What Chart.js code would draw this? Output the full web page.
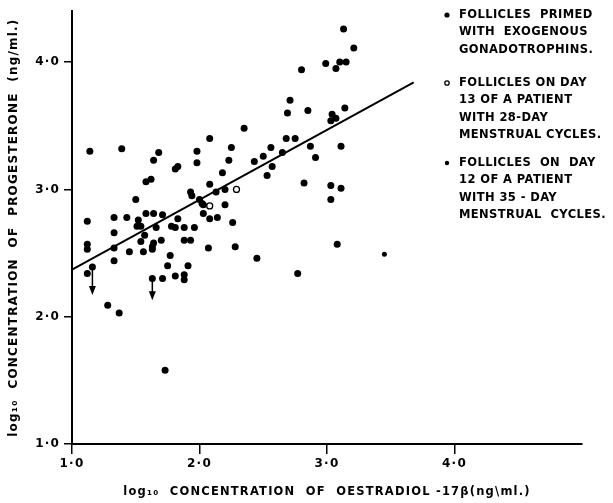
<!DOCTYPE html>
<html><head><meta charset="utf-8">
<script src="https://cdn.jsdelivr.net/npm/chart.js@4.4.1/dist/chart.umd.min.js"></script>
<style>html,body{margin:0;padding:0;background:#fff;}#wrap{width:613px;height:503px;}</style>
</head><body><div id="wrap"><canvas id="c" width="613" height="503"></canvas></div>
<script>
// Follicles primed with exogenous gonadotrophins (filled dots)
const primedX = [1.14,1.39,1.64,1.68,1.98,2.08,2.25,2.35,2.23,2.43,3.13,3.21,2.80,2.99,3.10,3.15,3.07,2.71,2.69,2.85,
  3.14,3.04,3.07,3.03,2.68,2.75,2.56,2.65,2.87,3.11,2.50,2.91,1.98,1.81,1.83,2.18,1.58,1.62,2.08,2.13,
  2.20,1.93,1.94,1.50,2.00,2.02,2.03,2.20,2.03,2.08,2.14,2.26,1.58,1.64,1.71,1.12,1.33,1.43,1.52,1.51,
  1.54,1.66,1.78,1.81,1.83,1.88,1.96,1.33,1.57,1.54,1.64,1.63,1.70,1.88,1.93,1.12,1.12,1.33,1.45,1.56,
  1.63,2.07,2.28,2.45,1.33,1.77,1.75,1.91,1.16,1.12,1.63,1.71,1.81,1.88,1.88,1.28,1.37,1.73,2.53,2.57,
  2.82,3.03,3.11,3.03,2.77,3.08];
const primedY = [3.30,3.32,3.23,3.29,3.30,3.40,3.33,3.48,3.23,3.22,4.26,4.11,3.94,3.99,4.00,4.00,3.95,3.70,3.60,3.62,
  3.64,3.59,3.56,3.54,3.40,3.40,3.33,3.29,3.34,3.34,3.26,3.25,3.21,3.16,3.18,3.13,3.06,3.08,3.04,2.98,
  3.00,2.98,2.95,2.92,2.92,2.89,2.88,2.88,2.81,2.77,2.78,2.74,2.81,2.81,2.80,2.75,2.78,2.78,2.76,2.71,
  2.71,2.70,2.71,2.70,2.77,2.70,2.70,2.66,2.64,2.59,2.58,2.55,2.60,2.60,2.60,2.57,2.53,2.54,2.51,2.51,
  2.53,2.54,2.55,2.46,2.44,2.48,2.40,2.40,2.39,2.34,2.30,2.30,2.32,2.33,2.29,2.09,2.03,1.58,3.11,3.18,
  3.05,3.03,3.01,2.92,2.34,2.57];
// Follicles on day 13, 28-day cycles (open circles)
const day13X = [2.29, 2.08];
const day13Y = [3.00, 2.87];
// Follicles on day 12, 35-day cycles (small dots)
const day12X = [3.45];
const day12Y = [2.49];
// Regression line
const fitX = [1.0, 3.68];
const fitY = [2.37, 3.84];
// Upper-limit arrows
const arrowX = [1.16, 1.63];
const arrowFromY = [2.37, 2.29];
const arrowToY = [2.17, 2.13];
// Axes
const xTicks = [1, 2, 3, 4];
const yTicks = [1, 2, 3, 4];
const xTickLabels = ['1·0', '2·0', '3·0', '4·0'];
const yTickLabels = ['1·0', '2·0', '3·0', '4·0'];
const xTitle = 'log₁₀  CONCENTRATION  OF  OESTRADIOL -17β(ng\\ml.)';
const yTitle = 'log₁₀  CONCENTRATION  OF  PROGESTERONE  (ng/ml.)';
const legendText = [
  ['FOLLICLES  PRIMED', 'WITH  EXOGENOUS', 'GONADOTROPHINS.'],
  ['FOLLICLES ON DAY', '13 OF A PATIENT', 'WITH 28-DAY', 'MENSTRUAL CYCLES.'],
  ['FOLLICLES  ON  DAY', '12 OF A PATIENT', 'WITH 35 - DAY', 'MENSTRUAL  CYCLES.']
];

const FONT = '"DejaVu Sans", sans-serif';
const toPts = (xs, ys) => xs.map((x, i) => ({x: x, y: ys[i]}));

const styles = [
  {radius: 3.5, backgroundColor: '#000', borderWidth: 0},
  {radius: 3, backgroundColor: '#fff', borderWidth: 1.3},
  {radius: 2.5, backgroundColor: '#000', borderWidth: 0}
];

const spacingPlugin = {
  id: 'spacing',
  beforeUpdate(c) { c.ctx.letterSpacing = '1.2px'; },
  beforeDraw(c) { c.ctx.letterSpacing = '1.2px'; }
};

const arrowPlugin = {
  id: 'arrows',
  afterDatasetsDraw(c) {
    const ctx = c.ctx, xs = c.scales.x, ys = c.scales.y;
    ctx.save();
    ctx.strokeStyle = '#000'; ctx.fillStyle = '#000'; ctx.lineWidth = 1.5;
    arrowX.forEach((xv, i) => {
      const px = xs.getPixelForValue(xv);
      const p1 = ys.getPixelForValue(arrowFromY[i]);
      const p2 = ys.getPixelForValue(arrowToY[i]);
      ctx.beginPath(); ctx.moveTo(px, p1); ctx.lineTo(px, p2 - 4); ctx.stroke();
      ctx.beginPath(); ctx.moveTo(px - 3.5, p2 - 9); ctx.lineTo(px, p2); ctx.lineTo(px + 3.5, p2 - 9); ctx.closePath(); ctx.fill();
    });
    ctx.restore();
  }
};

const legendPlugin = {
  id: 'notes',
  afterDraw(c) {
    const ctx = c.ctx;
    const markerX = 447, textX = 459, startY = [15, 83, 163], lh = 17.3;
    ctx.save();
    legendText.forEach((lines, i) => {
      ctx.fillStyle = styles[i].backgroundColor; ctx.strokeStyle = '#000';
      ctx.lineWidth = styles[i].borderWidth;
      ctx.beginPath(); ctx.arc(markerX, startY[i], i === 0 ? 2.6 : 2.2, 0, Math.PI * 2);
      ctx.fill(); if (styles[i].borderWidth) ctx.stroke();
      ctx.letterSpacing = '0.4px';
      ctx.font = 'bold 11.5px ' + FONT;
      ctx.fillStyle = '#000';
      ctx.textBaseline = 'middle'; ctx.textAlign = 'left';
      lines.forEach((t, j) => ctx.fillText(t, textX, startY[i] + j * lh));
    });
    ctx.restore();
  }
};

new Chart(document.getElementById('c'), {
  type: 'scatter',
  data: {
    datasets: [
      {label: 'fit', type: 'line', data: toPts(fitX, fitY), borderColor: '#000', borderWidth: 2,
        pointRadius: 0, fill: false, tension: 0, order: 3},
      {label: 'primed', data: toPts(primedX, primedY), order: 1, pointStyle: 'circle',
        pointRadius: styles[0].radius, pointBackgroundColor: '#000', pointBorderWidth: 0},
      {label: 'day13', data: toPts(day13X, day13Y), order: 0, pointStyle: 'circle', pointRadius: styles[1].radius,
        pointBackgroundColor: '#fff', pointBorderColor: '#000', pointBorderWidth: styles[1].borderWidth},
      {label: 'day12', data: toPts(day12X, day12Y), order: 0, pointStyle: 'circle', pointRadius: styles[2].radius,
        pointBackgroundColor: '#000', pointBorderWidth: 0}
    ]
  },
  options: {
    responsive: false, animation: false, devicePixelRatio: 1,
    layout: {padding: {top: 11, right: 31, left: 0, bottom: 0}},
    plugins: {legend: {display: false}, tooltip: {enabled: false}},
    scales: {
      x: {
        type: 'linear', min: 1, max: 5,
        afterBuildTicks: s => { s.ticks = xTicks.map(v => ({value: v})); },
        afterFit: s => { s.height = 59; },
        ticks: {callback: (v, i) => xTickLabels[i], color: '#000', padding: 3, maxRotation: 0, autoSkip: false,
          font: {family: FONT, size: 12, weight: 'bold'}},
        grid: {drawOnChartArea: false, color: '#000', lineWidth: 1.5, tickLength: 10},
        border: {display: true, color: '#000', width: 2},
        title: {display: true, text: xTitle, color: '#000', padding: {top: 0, bottom: 4},
          font: {family: FONT, size: 11.5, weight: 'bold'}}
      },
      y: {
        type: 'linear', min: 1, max: 4.4,
        afterBuildTicks: s => { s.ticks = yTicks.map(v => ({value: v})); },
        afterFit: s => { s.width = 72; },
        ticks: {callback: (v, i) => yTickLabels[i], color: '#000', padding: 4, autoSkip: false,
          font: {family: FONT, size: 12, weight: 'bold'}},
        grid: {drawOnChartArea: false, color: '#000', lineWidth: 1.5, tickLength: 8},
        border: {display: true, color: '#000', width: 2},
        title: {display: true, text: yTitle, color: '#000', padding: {top: 7, bottom: 0},
          font: {family: FONT, size: 12, weight: 'bold'}}
      }
    }
  },
  plugins: [spacingPlugin, arrowPlugin, legendPlugin]
});
</script>
</body></html>
